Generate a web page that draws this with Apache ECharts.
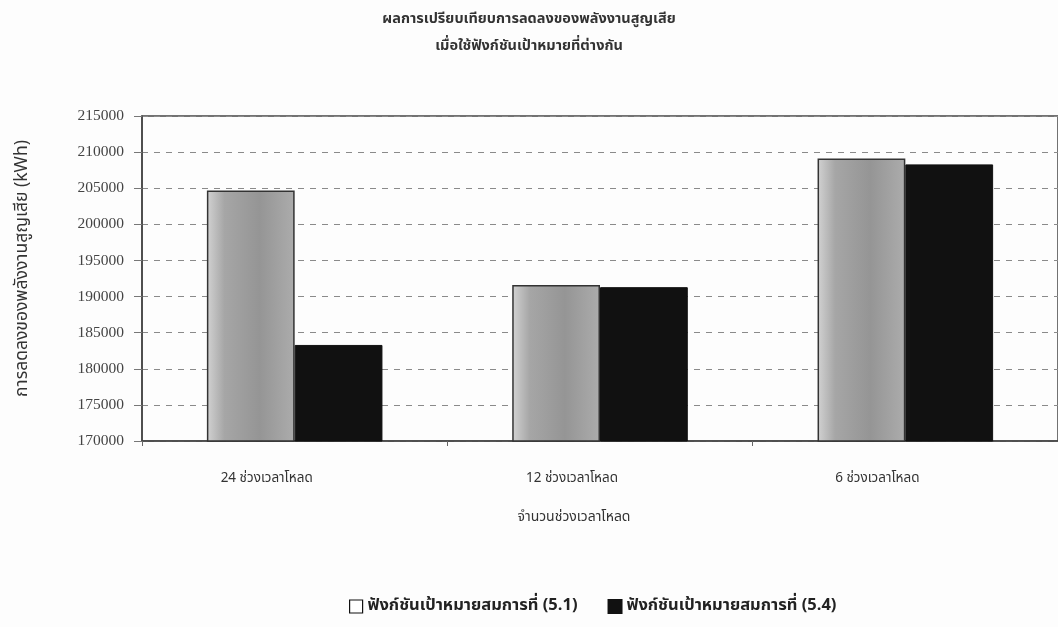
<!DOCTYPE html>
<html>
<head>
<meta charset="utf-8">
<script src="https://cdn.jsdelivr.net/npm/echarts@6/dist/echarts.min.js"></script>
<style>
  html, body { margin: 0; padding: 0; background: #fdfdfd; }
  #chart { width: 1058px; height: 627px; }
</style>
</head>
<body>
<div id="chart"></div>
<script>
// Loss reduction (kWh) for each load-period setting, two objective functions
const categories = ['24 ช่วงเวลาโหลด', '12 ช่วงเวลาโหลด', '6 ช่วงเวลาโหลด'];
const seriesNames = ['ฟังก์ชันเป้าหมายสมการที่ (5.1)', 'ฟังก์ชันเป้าหมายสมการที่ (5.4)'];
const objective51 = [204700, 191600, 209100];
const objective54 = [183300, 191300, 208300];
const yTicks = { min: 170000, max: 215000, step: 5000 };

const thaiFont = '"Noto Sans Thai", "Noto Serif Thai", Loma, Garuda, "DejaVu Sans", sans-serif';
const numFont = '"Liberation Serif", "DejaVu Serif", serif';

// textured-looking gray fill: light left edge, darker body
const grayFill = new echarts.graphic.LinearGradient(0, 0, 1, 0, [
  { offset: 0, color: '#d2d2d2' },
  { offset: 0.2, color: '#a6a6a6' },
  { offset: 0.6, color: '#959595' },
  { offset: 1, color: '#acacac' }
]);

const chart = echarts.init(document.getElementById('chart'), null, { renderer: 'canvas' });
chart.setOption({
  backgroundColor: '#fdfdfd',
  animation: false,
  title: {
    text: 'ผลการเปรียบเทียบการลดลงของพลังงานสูญเสีย\nเมื่อใช้ฟังก์ชันเป้าหมายที่ต่างกัน',
    left: 'center',
    top: 2,
    textStyle: { fontFamily: thaiFont, fontSize: 14.5, fontWeight: 'bold', color: '#333', lineHeight: 27 }
  },
  legend: {
    bottom: 7,
    left: 344,
    itemWidth: 13,
    itemHeight: 13,
    itemGap: 30,
    textStyle: { fontFamily: thaiFont, fontSize: 16.5, fontWeight: 'bold', color: '#222' },
    data: [
      { name: seriesNames[0], icon: 'rect', itemStyle: { color: '#fff', borderColor: '#111', borderWidth: 1.2 } },
      { name: seriesNames[1], icon: 'rect', itemStyle: { color: '#111' } }
    ]
  },
  grid: {
    left: 142, right: -2, top: 116, bottom: 186,
    show: true, borderColor: '#444', borderWidth: 1.5, backgroundColor: 'transparent'
  },
  xAxis: {
    type: 'category',
    data: categories,
    name: 'จำนวนช่วงเวลาโหลด',
    nameLocation: 'middle',
    nameGap: 70,
    nameTextStyle: { fontFamily: thaiFont, fontSize: 14, color: '#333', padding: [0, 52, 0, 0] },
    axisLine: { show: true, lineStyle: { color: '#444', width: 1.5 } },
    axisTick: { show: true, length: 5, lineStyle: { color: '#666' } },
    axisLabel: {
      margin: 31, fontFamily: thaiFont, fontSize: 13.5, color: '#333',
      padding: [0, 56, 0, 0]
    }
  },
  yAxis: {
    type: 'value',
    min: yTicks.min,
    max: yTicks.max,
    interval: yTicks.step,
    name: 'การลดลงของพลังงานสูญเสีย (kWh)',
    nameLocation: 'middle',
    nameGap: 110,
    nameTextStyle: { fontFamily: thaiFont, fontSize: 17.5, color: '#333', padding: [0, 0, 0, 20] },
    axisLine: { show: true, lineStyle: { color: '#444', width: 1.5 } },
    axisTick: { show: true, inside: false, length: 8, lineStyle: { color: '#777' } },
    axisLabel: { margin: 18, fontFamily: numFont, fontSize: 15.5, color: '#444', formatter: v => String(v) },
    splitLine: { show: true, lineStyle: { color: '#8a8a8a', type: [6, 6], width: 1 } }
  },
  series: [
    {
      name: seriesNames[0],
      type: 'bar',
      data: objective51,
      barGap: '0%',
      barCategoryGap: '42.5%',
      itemStyle: { color: grayFill, borderColor: '#333', borderWidth: 1.5 }
    },
    {
      name: seriesNames[1],
      type: 'bar',
      data: objective54,
      itemStyle: { color: '#111', borderColor: '#111', borderWidth: 1 }
    }
  ]
});
</script>
</body>
</html>
